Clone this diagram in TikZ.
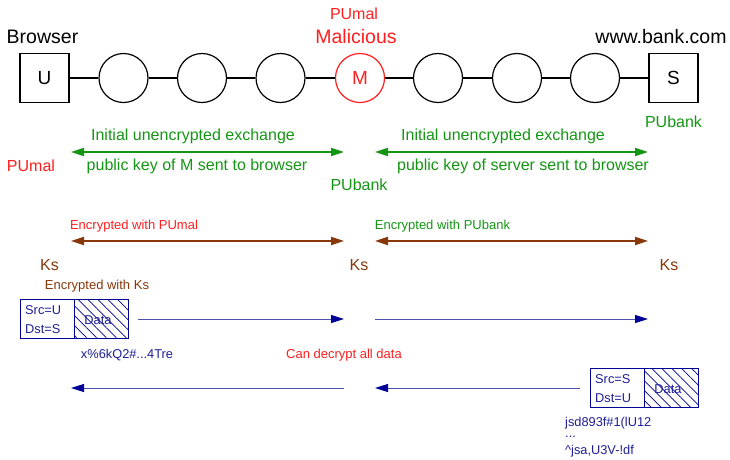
\documentclass[tikz,border=0pt]{standalone}
\usepackage{fontspec}
\setmainfont{Liberation Sans}
\usetikzlibrary{arrows.meta,patterns.meta}
\definecolor{grn}{RGB}{20,150,20}
\definecolor{rd}{RGB}{255,30,30}
\definecolor{brn}{RGB}{135,55,10}
\definecolor{nvy}{RGB}{0,0,150}
\definecolor{nvyline}{RGB}{80,80,175}
\definecolor{nvytext}{RGB}{30,30,150}

\begin{document}
\begin{tikzpicture}[x=1pt,y=-1pt,
  hop/.style={circle,draw,line width=1.2pt,minimum size=49pt,inner sep=0pt,font=\fontsize{19}{21}\selectfont},
  endbox/.style={rectangle,draw,line width=1.2pt,minimum size=49pt,inner sep=0pt,font=\fontsize{19}{21}\selectfont},
  link/.style={line width=1.2pt},
  lbig/.style={inner sep=0pt,font=\fontsize{19.5}{21}\selectfont},
  lmid/.style={inner sep=0pt,font=\fontsize{16}{18}\selectfont},
  lks/.style={inner sep=0pt,text=brn,font=\fontsize{16}{18}\selectfont},
  lsmall/.style={inner sep=0pt,font=\fontsize{13}{15}\selectfont},
  garrow/.style={draw=grn,line width=1.8pt,{Triangle[length=13pt,width=8pt]}-{Triangle[length=13pt,width=8pt]}},
  barrow/.style={draw=brn,line width=1.8pt,{Triangle[length=13pt,width=8pt]}-{Triangle[length=13pt,width=8pt]}},
  darrow/.style={draw=nvyline,line width=0.9pt,-{Triangle[length=13pt,width=8pt,color=nvy]}},
  hdr/.style={rectangle,draw=nvy,line width=1pt,minimum width=54pt,minimum height=39pt,inner sep=0pt},
  payload/.style={rectangle,draw=nvy,line width=1pt,minimum width=54pt,minimum height=39pt,inner sep=0pt,
    pattern={Lines[angle=-45,distance=7pt,line width=0.7pt]},pattern color=nvy},
  ptext/.style={inner sep=0pt,text=nvytext,font=\fontsize{12.8}{14}\selectfont}
]
\useasboundingbox (0,0) rectangle (730,459);

% --- the network path ---
\node[endbox] (u) at (44.5,78) {U};
\node[hop] (h1) at (123.5,78) {};
\node[hop] (h2) at (202,78) {};
\node[hop] (h3) at (280.5,78) {};
\node[hop,draw=rd,text=rd] (m) at (360,78) {M};
\node[hop] (h4) at (438,78) {};
\node[hop] (h5) at (517,78) {};
\node[hop] (h6) at (595,78) {};
\node[endbox] (s) at (673.5,78) {S};
\draw[link] (u) -- (h1);
\draw[link] (h1) -- (h2);
\draw[link] (h2) -- (h3);
\draw[link] (h3) -- (m);
\draw[link] (m) -- (h4);
\draw[link] (h4) -- (h5);
\draw[link] (h5) -- (h6);
\draw[link] (h6) -- (s);

\node[lbig] (browser) at (42.5,37) {Browser};
\node[lbig] (bank) at (661,37) {www.bank.com};
\node[lbig,text=rd] (malicious) at (356,37) {Malicious};
\node[lmid,text=rd] (pumaltop) at (354,14) {PUmal};
\node[lmid,text=grn] (pubankS) at (673.5,122) {PUbank};

% --- initial key exchange ---
\coordinate (g1a) at (71,152);
\coordinate (g1b) at (344,152);
\coordinate (g2a) at (375,152);
\coordinate (g2b) at (648,152);
\draw[garrow] (g1a) -- (g1b);
\draw[garrow] (g2a) -- (g2b);
\node[lmid,text=grn] (init1) at (193,136) {Initial unencrypted exchange};
\node[lmid,text=grn] (pk1) at (197,166) {public key of M sent to browser};
\node[lmid,text=grn] (init2) at (503,136) {Initial unencrypted exchange};
\node[lmid,text=grn] (pk2) at (523,166) {public key of server sent to browser};
\node[lmid,text=rd] (pumalleft) at (31,166) {PUmal};
\node[lmid,text=grn] (pubankmid) at (359,185) {PUbank};

% --- session key exchange ---
\coordinate (b1a) at (71,241);
\coordinate (b1b) at (344,241);
\coordinate (b2a) at (375,241);
\coordinate (b2b) at (648,241);
\draw[barrow] (b1a) -- (b1b);
\draw[barrow] (b2a) -- (b2b);
\node[lsmall,text=rd] (encmal) at (134,226) {Encrypted with PUmal};
\node[lsmall,text=grn] (encbank) at (442.5,226) {Encrypted with PUbank};
\node[lks] (ks1) at (49.5,265) {Ks};
\node[lks] (ks2) at (359,265) {Ks};
\node[lks] (ks3) at (669,265) {Ks};
\node[inner sep=0pt,text=brn,font=\fontsize{13}{15}\selectfont] (encks) at (97,286) {Encrypted with Ks};

% --- data packets ---
\node[hdr] (hdr1) at (47,318.5) {};
\node[payload] (pay1) at (101,318.5) {};
\node[ptext] (data1) at (98,320) {Data};
\node[ptext,anchor=west] (src1) at (25,310) {Src=U};
\node[ptext,anchor=west] (dst1) at (25,329) {Dst=S};

\node[hdr] (hdr2) at (617,387.5) {};
\node[payload] (pay2) at (671,387.5) {};
\node[ptext] (data2) at (668,389) {Data};
\node[ptext,anchor=west] (src2) at (595,379) {Src=S};
\node[ptext,anchor=west] (dst2) at (595,398) {Dst=U};

\coordinate (r1a) at (138,319);
\coordinate (r1b) at (344,319);
\coordinate (r2a) at (375,319);
\coordinate (r2b) at (648,319);
\draw[darrow] (r1a) -- (r1b);
\draw[darrow] (r2a) -- (r2b);

\coordinate (l1a) at (344,388);
\coordinate (l1b) at (71,388);
\coordinate (l2a) at (580,388);
\coordinate (l2b) at (375,388);
\draw[darrow] (l1a) -- (l1b);
\draw[darrow] (l2a) -- (l2b);

\node[ptext] (cipher1) at (127,355) {x\%6kQ2\#...4Tre};
\node[lsmall,text=rd] (decrypt) at (344,355) {Can decrypt all data};
\node[ptext,anchor=west] (cipher2a) at (565,423) {jsd893f\#1(lU12};
\node[ptext,anchor=west] (cipher2b) at (565,437) {...};
\node[ptext,anchor=west] (cipher2c) at (565,451) {\textasciicircum jsa,U3V-!df};
\end{tikzpicture}
\end{document}
